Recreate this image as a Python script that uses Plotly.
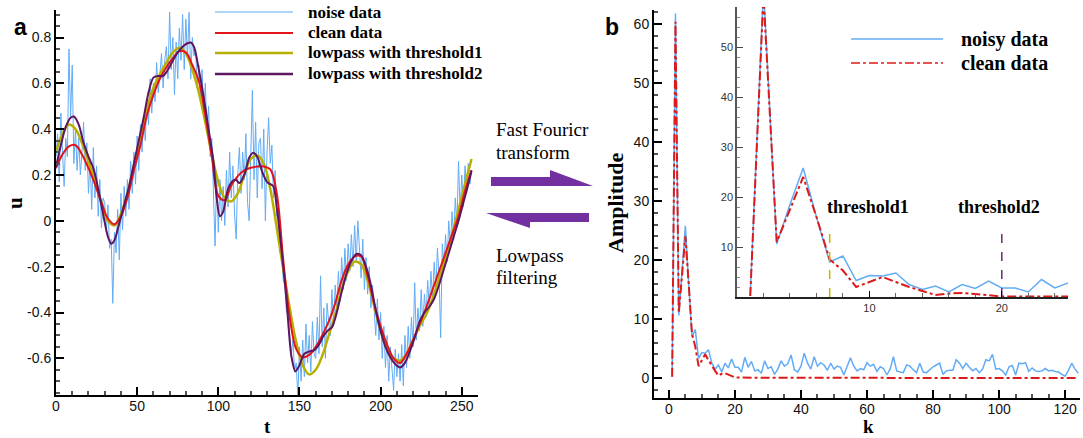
import plotly.graph_objects as go

W, H = 1083, 438

# ---------------- panel a data ----------------
t_noise = list(range(257))
u_noise = [
    0.28, 0.38, 0.17, 0.47, 0.30, 0.15, 0.36, 0.28, 0.75, 0.45, 0.68, 0.25, 0.40, 0.22, 0.36, 0.20,
    0.30, 0.43, 0.22, 0.34, 0.12, 0.27, 0.05, 0.32, 0.10, 0.24, 0.02, 0.18, -0.03, 0.10, 0.08, -0.05,
    0.07, -0.12, -0.08, -0.36, -0.05, -0.14, 0.05, -0.17, 0.12, -0.04, 0.15, 0.02, 0.18, 0.05, 0.26, 0.12,
    0.30, 0.16, 0.37, 0.22, 0.42, 0.30, 0.46, 0.35, 0.53, 0.42, 0.62, 0.47, 0.60, 0.52, 0.69, 0.56,
    0.64, 0.73, 0.58, 0.70, 0.76, 0.62, 0.91, 0.66, 0.80, 0.55, 0.78, 0.62, 0.84, 0.70, 0.90, 0.66,
    0.88, 0.71, 0.91, 0.62, 0.80, 0.72, 0.75, 0.58, 0.68, 0.52, 0.66, 0.45, 0.60, 0.38, 0.50, 0.28,
    0.36, 0.14, -0.11, 0.20, -0.05, 0.18, 0.00, 0.15, -0.02, 0.22, 0.06, 0.30, 0.10, 0.24, 0.03, -0.08,
    0.20, 0.32, 0.12, 0.30, 0.18, 0.38, 0.08, 0.00, 0.30, 0.57, 0.18, 0.43, 0.10, 0.34, 0.36, 0.14,
    0.40, 0.00, 0.30, 0.45, 0.25, 0.33, 0.10, 0.22, 0.02, 0.04, -0.14, -0.10, -0.26, -0.28, -0.40, -0.38,
    -0.50, -0.58, -0.52, -0.66, -0.62, -0.77, -0.55, -0.70, -0.52, -0.68, -0.45, -0.62, -0.50, -0.66, -0.44, -0.58,
    -0.60, -0.42, -0.58, -0.24, -0.55, -0.38, -0.60, -0.36, -0.44, -0.50, -0.30, -0.46, -0.28, -0.38, -0.22, -0.35,
    -0.16, -0.30, -0.12, -0.26, -0.10, -0.22, -0.06, -0.20, -0.02, -0.18, 0.00, -0.12, -0.25, -0.08, -0.30, -0.16,
    -0.32, -0.20, -0.38, -0.28, -0.42, -0.50, -0.34, -0.52, -0.40, -0.60, -0.46, -0.64, -0.50, -0.70, -0.55, -0.66,
    -0.74, -0.56, -0.68, -0.58, -0.70, -0.54, -0.72, -0.50, -0.64, -0.46, -0.60, -0.42, -0.55, -0.27, -0.52, -0.38,
    -0.48, -0.30, -0.46, -0.32, -0.42, -0.26, -0.38, -0.22, -0.34, -0.18, -0.30, -0.12, -0.24, -0.51, -0.10, -0.20,
    -0.06, -0.18, 0.00, -0.12, 0.04, -0.08, 0.10, -0.02, 0.26, 0.04, 0.20, 0.06, 0.24, 0.12, 0.25, 0.16, 0.22,
]

t_smooth = list(range(0, 257, 4))
u_clean = [
    0.23, 0.29, 0.325, 0.33, 0.29, 0.23, 0.16, 0.08, 0.01, -0.015,
    0.02, 0.10, 0.22, 0.33, 0.46, 0.55, 0.62, 0.67, 0.71, 0.74,
    0.735, 0.68, 0.61, 0.46, 0.28, 0.11, 0.09, 0.155, 0.195, 0.22,
    0.232, 0.237, 0.237, 0.225, 0.12, -0.17, -0.42, -0.56, -0.595, -0.585,
    -0.55, -0.50, -0.44, -0.36, -0.26, -0.19, -0.155, -0.155, -0.24, -0.36,
    -0.46, -0.54, -0.60, -0.62, -0.58, -0.52, -0.45, -0.38, -0.30, -0.22,
    -0.14, -0.06, 0.02, 0.13, 0.22,
]
u_lp1 = [
    0.30, 0.38, 0.42, 0.40, 0.34, 0.26, 0.17, 0.08, 0.00, -0.02,
    0.03, 0.12, 0.24, 0.37, 0.49, 0.58, 0.64, 0.69, 0.735, 0.755,
    0.73, 0.66, 0.56, 0.43, 0.29, 0.17, 0.10, 0.085, 0.12, 0.20,
    0.27, 0.285, 0.25, 0.14, -0.03, -0.21, -0.38, -0.53, -0.63, -0.67,
    -0.65, -0.59, -0.50, -0.41, -0.30, -0.22, -0.178, -0.19, -0.26, -0.37,
    -0.48, -0.56, -0.60, -0.61, -0.58, -0.52, -0.46, -0.41, -0.34, -0.25,
    -0.16, -0.06, 0.05, 0.16, 0.27,
]
t_lp2 = [
    0, 3, 6, 9, 11, 14, 17, 20, 23, 26, 29, 32, 34, 36, 39, 42, 45, 48, 51, 54,
    57, 60, 63, 66, 69, 72, 75, 78, 81, 83, 85, 88, 91, 94, 97, 99, 101, 103, 106, 109,
    111, 113, 116, 119, 121.5, 124, 127, 130, 132, 134, 136, 139, 142, 145, 147.5, 150, 153, 156, 159, 162,
    165, 168, 170, 173, 176, 179, 182, 185, 188, 191, 194, 197, 200, 203, 206, 209, 212, 215, 218, 221,
    224, 227, 230, 233, 236, 239, 242, 245, 248, 251, 254, 256,
]
u_lp2 = [
    0.235, 0.33, 0.41, 0.45, 0.455, 0.42, 0.34, 0.28, 0.23, 0.14, 0.03, -0.07, -0.10, -0.085, -0.01, 0.07, 0.15, 0.25, 0.35, 0.45,
    0.56, 0.625, 0.632, 0.632, 0.66, 0.70, 0.735, 0.76, 0.775, 0.778, 0.76, 0.66, 0.54, 0.40, 0.26, 0.10, 0.02, 0.04, 0.14, 0.175,
    0.178, 0.165, 0.20, 0.275, 0.297, 0.28, 0.215, 0.17, 0.16, 0.15, 0.06, -0.13, -0.345, -0.59, -0.657, -0.63, -0.58, -0.57, -0.565, -0.54,
    -0.50, -0.475, -0.465, -0.40, -0.31, -0.23, -0.175, -0.145, -0.15, -0.20, -0.28, -0.39, -0.48, -0.55, -0.595, -0.625, -0.64, -0.62, -0.57, -0.51,
    -0.44, -0.40, -0.375, -0.34, -0.28, -0.21, -0.14, -0.07, 0.00, 0.08, 0.16, 0.22,
]

# ---------------- panel b data ----------------
k = list(range(1, 125))
amp_noisy = [
    0.2, 61.8, 10.6, 18.5, 25.8, 16.0, 7.0, 8.2, 3.3, 4.3, 4.2, 4.8, 2.5, 1.5, 2.2, 1.0,
    2.5, 1.7, 3.2, 1.8, 1.8, 1.0, 3.5, 1.8, 2.8, 1.2, 1.4, 0.8, 2.9, 1.6, 1.9, 0.6,
    1.5, 2.9, 2.0, 2.4, 3.9, 1.4, 1.0, 2.0, 4.2, 2.5, 1.5, 3.6, 2.0, 2.6, 2.2, 1.3,
    2.5, 1.5, 2.0, 1.8, 0.5, 2.0, 3.4, 2.0, 1.2, 1.6, 1.4, 2.6, 2.0, 2.3, 1.1, 1.9,
    1.6, 0.5, 1.5, 3.6, 1.2, 1.0, 0.9, 2.2, 2.0, 1.4, 0.9, 2.5, 1.0, 0.9, 1.4, 1.9,
    2.2, 2.5, 0.6, 1.2, 1.3, 1.3, 3.1, 2.5, 1.6, 2.5, 1.8, 1.2, 1.6, 0.9, 1.5, 3.1,
    2.9, 4.0, 1.5, 1.6, 1.2, 0.5, 1.9, 2.1, 0.5, 2.5, 2.4, 2.6, 1.1, 1.7, 1.2, 1.1,
    1.2, 1.6, 1.2, 1.3, 1.1, 1.0, 0.6, 0.3, 1.3, 2.5, 1.5, 0.8,
]
amp_clean = [
    0.2, 60.4, 11.0, 17.5, 24.0, 16.0, 7.5, 5.3, 2.0, 3.0, 4.0, 3.0, 2.0, 1.2, 0.4, 0.7,
    0.8, 0.6, 0.4, 0.1, 0.08, 0.06, 0.05, 0.05, 0.04, 0.04, 0.03, 0.03, 0.03, 0.02, 0.02, 0.02,
    0.02, 0.02, 0.01, 0.01, 0.01, 0.01, 0.01, 0.01, 0.01, 0.01, 0.01, 0.01, 0.01, 0.01, 0.01, 0.01,
    0.0, 0.0, 0.0, 0.0, 0.0, 0.0, 0.0, 0.0, 0.0, 0.0, 0.0, 0.0, 0.0, 0.0, 0.0, 0.0,
    0.0, 0.0, 0.0, 0.0, 0.0, 0.0, 0.0, 0.0, 0.0, 0.0, 0.0, 0.0, 0.0, 0.0, 0.0, 0.0,
    0.0, 0.0, 0.0, 0.0, 0.0, 0.0, 0.0, 0.0, 0.0, 0.0, 0.0, 0.0, 0.0, 0.0, 0.0, 0.0,
    0.0, 0.0, 0.0, 0.0, 0.0, 0.0, 0.0, 0.0, 0.0, 0.0, 0.0, 0.0, 0.0, 0.0, 0.0, 0.0,
    0.0, 0.0, 0.0, 0.0, 0.0, 0.0, 0.0, 0.0, 0.0, 0.0, 0.0, 0.0,
]
k_threshold = [7, 20]
threshold_top = [13.6, 13.0]

y_ticks_a = [-0.6, -0.4, -0.2, 0, 0.2, 0.4, 0.6, 0.8]
y_ticktext_a = ["-0.6", "-0.4", "-0.2", "0", "0.2", "0.4", "0.6", "0.8"]

# ---------------- styles ----------------
C_NOISE = "#62acf6"
C_CLEAN = "#e3141b"
C_LP1 = "#b8b000"
C_LP2 = "#5e1660"
C_ARROW = "#7230a0"
SERIF = "Liberation Serif, Times New Roman, serif"
SANS = "Liberation Sans, Arial, sans-serif"


def fx(p):
    return p / W


def fy(p):
    return 1 - p / H


fig = go.Figure()

# panel a
fig.add_trace(go.Scatter(x=t_noise, y=u_noise, mode="lines", xaxis="x", yaxis="y",
                         line=dict(color=C_NOISE, width=1), name="noise data"))
fig.add_trace(go.Scatter(x=t_smooth, y=u_lp1, mode="lines", xaxis="x", yaxis="y",
                         line=dict(color=C_LP1, width=2.5, shape="spline", smoothing=1),
                         name="lowpass with threshold1"))
fig.add_trace(go.Scatter(x=t_smooth, y=u_clean, mode="lines", xaxis="x", yaxis="y",
                         line=dict(color=C_CLEAN, width=2, shape="spline", smoothing=1),
                         name="clean data"))
fig.add_trace(go.Scatter(x=t_lp2, y=u_lp2, mode="lines", xaxis="x", yaxis="y",
                         line=dict(color=C_LP2, width=2, shape="spline", smoothing=0.8),
                         name="lowpass with threshold2"))

# panel b main
fig.add_trace(go.Scatter(x=k, y=amp_noisy, mode="lines", xaxis="x2", yaxis="y2",
                         line=dict(color=C_NOISE, width=1.5), name="noisy data"))
fig.add_trace(go.Scatter(x=k, y=amp_clean, mode="lines", xaxis="x2", yaxis="y2",
                         line=dict(color="#dd1a1a", width=2, dash="dashdot"), name="clean data"))
# panel b inset
fig.add_trace(go.Scatter(x=k, y=amp_noisy, mode="lines", xaxis="x3", yaxis="y3",
                         line=dict(color=C_NOISE, width=1.5), name="noisy data"))
fig.add_trace(go.Scatter(x=k, y=amp_clean, mode="lines", xaxis="x3", yaxis="y3",
                         line=dict(color="#dd1a1a", width=2, dash="dashdot"), name="clean data"))
for kt, top, col in zip(k_threshold, threshold_top, ["#c8b400", "#6e2a70"]):
    fig.add_trace(go.Scatter(x=[kt, kt], y=[0, top], mode="lines", xaxis="x3", yaxis="y3",
                             line=dict(color=col, width=1.5, dash="dash")))

tickfont = dict(family=SANS, size=14, color="#111")
base = dict(showline=True, linecolor="black", linewidth=2, ticks="inside", ticklen=8,
            tickwidth=1.5, tickcolor="black", showgrid=False, zeroline=False, tickfont=tickfont,
            automargin=False)

fig.update_layout(
    width=W, height=H, margin=dict(l=0, r=0, t=0, b=0),
    paper_bgcolor="white", plot_bgcolor="white", showlegend=False,
    xaxis=dict(base, domain=[fx(56), fx(478)], range=[0, 260], dtick=50, tick0=0, anchor="y",
               ticklabelstandoff=-3,
               minor=dict(ticks="inside", ticklen=4, dtick=10, tick0=0, tickcolor="#555")),
    yaxis=dict(base, domain=[fy(395), fy(10)], range=[-0.76, 0.92], tickmode="array",
               tickvals=y_ticks_a, ticktext=y_ticktext_a, anchor="x",
               minor=dict(ticks="inside", ticklen=4, dtick=0.05, tick0=0, tickcolor="#555")),
    xaxis2=dict(base, domain=[fx(654), fx(1080)], range=[-4.5, 124.5], dtick=20, tick0=0, anchor="y2",
                ticklabelstandoff=-3,
                minor=dict(ticks="inside", ticklen=4, dtick=5, tick0=0, tickcolor="#555")),
    yaxis2=dict(base, domain=[fy(398), fy(10)], range=[-3.4, 62.4], dtick=10, tick0=0, anchor="x2",
                minor=dict(ticks="inside", ticklen=4, dtick=2, tick0=0, tickcolor="#555")),
    xaxis3=dict(base, domain=[fx(737), fx(1068)], range=[0, 25], tickmode="array", tickvals=[10, 20],
                anchor="y3", linecolor="#222", linewidth=2, ticklen=6, tickwidth=1,
                tickfont=dict(family=SANS, size=11, color="#333"),
                minor=dict(ticks="inside", ticklen=4, dtick=2, tick0=0, tickcolor="#666")),
    yaxis3=dict(base, domain=[fy(297), fy(7)], range=[0, 58], tickmode="array",
                tickvals=[10, 20, 30, 40, 50], anchor="x3", linecolor="#555", linewidth=1.5,
                ticklen=6, tickwidth=1, tickcolor="#444",
                tickfont=dict(family=SANS, size=11, color="#333"),
                minor=dict(ticks="inside", ticklen=3, dtick=2, tick0=0, tickcolor="#888")),
)

shapes = []
ann = []


def label(txt, x, y, size, family, bold=True, xanchor="center", angle=0):
    font = dict(family=family, size=size, color="black")
    if bold:
        font["weight"] = "bold"
    ann.append(dict(text=txt, x=fx(x), y=fy(y), xref="paper", yref="paper", xanchor=xanchor,
                    yanchor="middle", showarrow=False, textangle=angle, font=font))


# left legend
leg_a = [("noise data", C_NOISE, 1.2), ("clean data", C_CLEAN, 2.2),
         ("lowpass with threshold1", C_LP1, 2.5), ("lowpass with threshold2", C_LP2, 2.5)]
for i, (txt, col, wdt) in enumerate(leg_a):
    yy = [12, 33, 53, 74][i]
    shapes.append(dict(type="line", xref="paper", yref="paper", x0=fx(215), x1=fx(293),
                       y0=fy(yy), y1=fy(yy), line=dict(color=col, width=wdt)))
    label(txt, 306, yy, 17, SERIF, xanchor="left")

# right legend
shapes.append(dict(type="line", xref="paper", yref="paper", x0=fx(851), x1=fx(943),
                   y0=fy(39), y1=fy(39), line=dict(color=C_NOISE, width=1.5)))
shapes.append(dict(type="line", xref="paper", yref="paper", x0=fx(851), x1=fx(943),
                   y0=fy(63), y1=fy(63), line=dict(color="#dd1a1a", width=1.5, dash="dashdot")))
label("noisy data", 959, 39, 20, SERIF, xanchor="left")
label("clean data", 959, 63, 20, SERIF, xanchor="left")
label("threshold1", 825, 207, 18, SERIF, xanchor="left")
label("threshold2", 956, 207, 18, SERIF, xanchor="left")

# panel labels and axis titles
label("a", 20, 27, 23, SANS)
label("b", 612, 27, 23, SANS)
label("u", 15, 203, 21, SERIF, angle=-90)
label("t", 267, 426, 19, SERIF)
label("k", 868, 426, 19, SERIF)
label("Amplitude", 615, 203, 22, SERIF, angle=-90)

# middle text
for txt, yy in [("Fast Fouricr", 130), ("transform", 152), ("Lowpass", 255), ("filtering", 277)]:
    label(txt, 494, yy, 19, SERIF, bold=False, xanchor="left")


def path(pts):
    return "M " + " L ".join(f"{fx(a):.5f},{fy(b):.5f}" for a, b in pts) + " Z"


shapes.append(dict(type="path", xref="paper", yref="paper", line=dict(width=0),
                   fillcolor=C_ARROW,
                   path=path([(491, 177), (550, 177), (550, 170), (593, 186), (491, 186)])))
shapes.append(dict(type="path", xref="paper", yref="paper", line=dict(width=0),
                   fillcolor=C_ARROW,
                   path=path([(486, 213), (589, 213), (589, 222), (530, 222), (530, 228)])))

fig.update_layout(shapes=shapes, annotations=ann)
fig.write_html("out.html", config={"displayModeBar": False},
               post_script="document.body.style.margin='0';document.body.style.padding='0';")
